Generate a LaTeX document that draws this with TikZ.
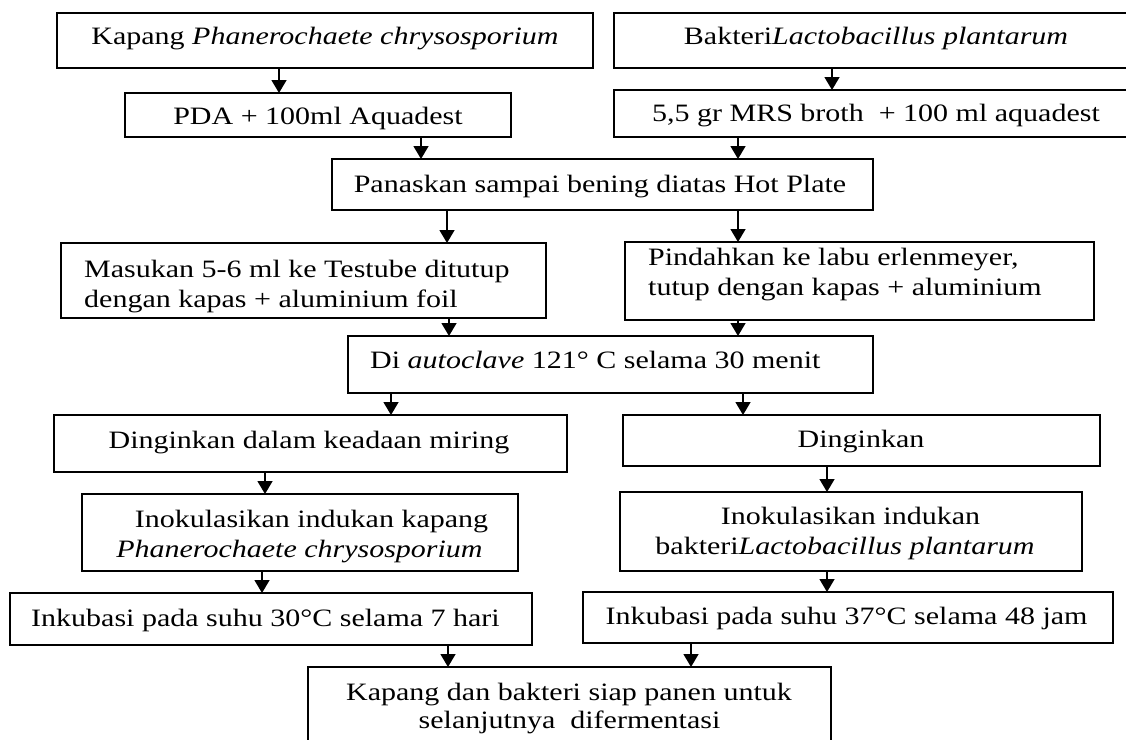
\documentclass[tikz,border=0pt]{standalone}
\usepackage{fontspec}
\setmainfont[FakeStretch=1.2]{Liberation Serif}
\usetikzlibrary{arrows.meta}
\tikzset{
  box/.style={draw, line width=1.3pt, inner sep=0pt, outer sep=0pt},
  txt/.style={inner sep=0pt, anchor=base, font=\fontsize{25}{30}\selectfont},
  txtl/.style={txt, anchor=base west},
  arr/.style={line width=1.5pt, -{Triangle[width=15pt,length=13pt]}}
}
\begin{document}
\begin{tikzpicture}[x=1pt,y=-1pt]
\useasboundingbox (0,0) rectangle (1126,739);
% boxes
\node[box, minimum width=536pt, minimum height=55pt] (b1) at (325,40.5) {};
\node[box, minimum width=516pt, minimum height=55pt] (b2) at (872,40.5) {};
\node[box, minimum width=386pt, minimum height=44pt] (b3) at (318,115) {};
\node[box, minimum width=516pt, minimum height=47pt] (b4) at (872,113.5) {};
\node[box, minimum width=541pt, minimum height=51pt] (b5) at (602.5,184.5) {};
\node[box, minimum width=485pt, minimum height=75pt] (b6) at (303.5,280.5) {};
\node[box, minimum width=469pt, minimum height=78pt] (b7) at (859.5,281) {};
\node[box, minimum width=525pt, minimum height=57pt] (b8) at (610.5,364.5) {};
\node[box, minimum width=513pt, minimum height=57pt] (b9) at (310.5,443.5) {};
\node[box, minimum width=477pt, minimum height=51pt] (b10) at (861.5,440.5) {};
\node[box, minimum width=436pt, minimum height=77pt] (b11) at (300,532.5) {};
\node[box, minimum width=462pt, minimum height=79pt] (b12) at (851,531.5) {};
\node[box, minimum width=522pt, minimum height=52pt] (b13) at (271,619) {};
\node[box, minimum width=530pt, minimum height=51pt] (b14) at (848,617.5) {};
\node[box, minimum width=523pt, minimum height=93pt] (b15) at (569.5,713.5) {};
% texts
\node[txt] (t1) at (325,44) {Kapang \textit{Phanerochaete chrysosporium}};
\node[txt] (t2) at (876,44) {Bakteri\textit{Lactobacillus plantarum}};
\node[txt] (t3) at (318,124) {PDA + 100ml Aquadest};
\node[txt] (t4) at (876,121) {5,5 gr MRS broth~ + 100 ml aquadest};
\node[txt] (t5) at (600,192) {Panaskan sampai bening diatas Hot Plate};
\node[txtl] (t6a) at (84,277) {Masukan 5-6 ml ke Testube ditutup};
\node[txtl] (t6b) at (84,307) {dengan kapas + aluminium foil};
\node[txtl] (t7a) at (648,265) {Pindahkan ke labu erlenmeyer,};
\node[txtl] (t7b) at (648,295) {tutup dengan kapas + aluminium};
\node[txtl] (t8) at (370,368) {Di \textit{autoclave} 121° C selama 30 menit};
\node[txt] (t9) at (309,448) {Dinginkan dalam keadaan miring};
\node[txt] (t10) at (861,447) {Dinginkan};
\node[txt] (t11a) at (311.5,527) {Inokulasikan indukan kapang};
\node[txt] (t11b) at (299.5,557) {\textit{Phanerochaete chrysosporium}};
\node[txt] (t12a) at (850.5,524) {Inokulasikan indukan};
\node[txt] (t12b) at (845,554) {bakteri\textit{Lactobacillus plantarum}};
\node[txt] (t13) at (265.5,626) {Inkubasi pada suhu 30°C selama 7 hari};
\node[txt] (t14) at (846.5,624) {Inkubasi pada suhu 37°C selama 48 jam};
\node[txt] (t15a) at (569,700) {Kapang dan bakteri siap panen untuk};
\node[txt] (t15b) at (569.5,728) {selanjutnya~ difermentasi};
% arrow columns
\coordinate (xa) at (279,0);
\coordinate (xb) at (832,0);
\coordinate (xc) at (421,0);
\coordinate (xd) at (738,0);
\coordinate (xe) at (447,0);
\coordinate (xf) at (449,0);
\coordinate (xg) at (391,0);
\coordinate (xh) at (743,0);
\coordinate (xi) at (265,0);
\coordinate (xj) at (827,0);
\coordinate (xk) at (262,0);
\coordinate (xl) at (448,0);
\coordinate (xm) at (691,0);
% connectors
\draw[arr] (xa |- b1.south) -- (xa |- b3.north);
\draw[arr] (xb |- b2.south) -- (xb |- b4.north);
\draw[arr] (xc |- b3.south) -- (xc |- b5.north);
\draw[arr] (xd |- b4.south) -- (xd |- b5.north);
\draw[arr] (xe |- b5.south) -- (xe |- b6.north);
\draw[arr] (xd |- b5.south) -- (xd |- b7.north);
\draw[arr] (xf |- b6.south) -- (xf |- b8.north);
\draw[arr] (xd |- b7.south) -- (xd |- b8.north);
\draw[arr] (xg |- b8.south) -- (xg |- b9.north);
\draw[arr] (xh |- b8.south) -- (xh |- b10.north);
\draw[arr] (xi |- b9.south) -- (xi |- b11.north);
\draw[arr] (xj |- b10.south) -- (xj |- b12.north);
\draw[arr] (xk |- b11.south) -- (xk |- b13.north);
\draw[arr] (xj |- b12.south) -- (xj |- b14.north);
\draw[arr] (xl |- b13.south) -- (xl |- b15.north);
\draw[arr] (xm |- b14.south) -- (xm |- b15.north);
\end{tikzpicture}
\end{document}
